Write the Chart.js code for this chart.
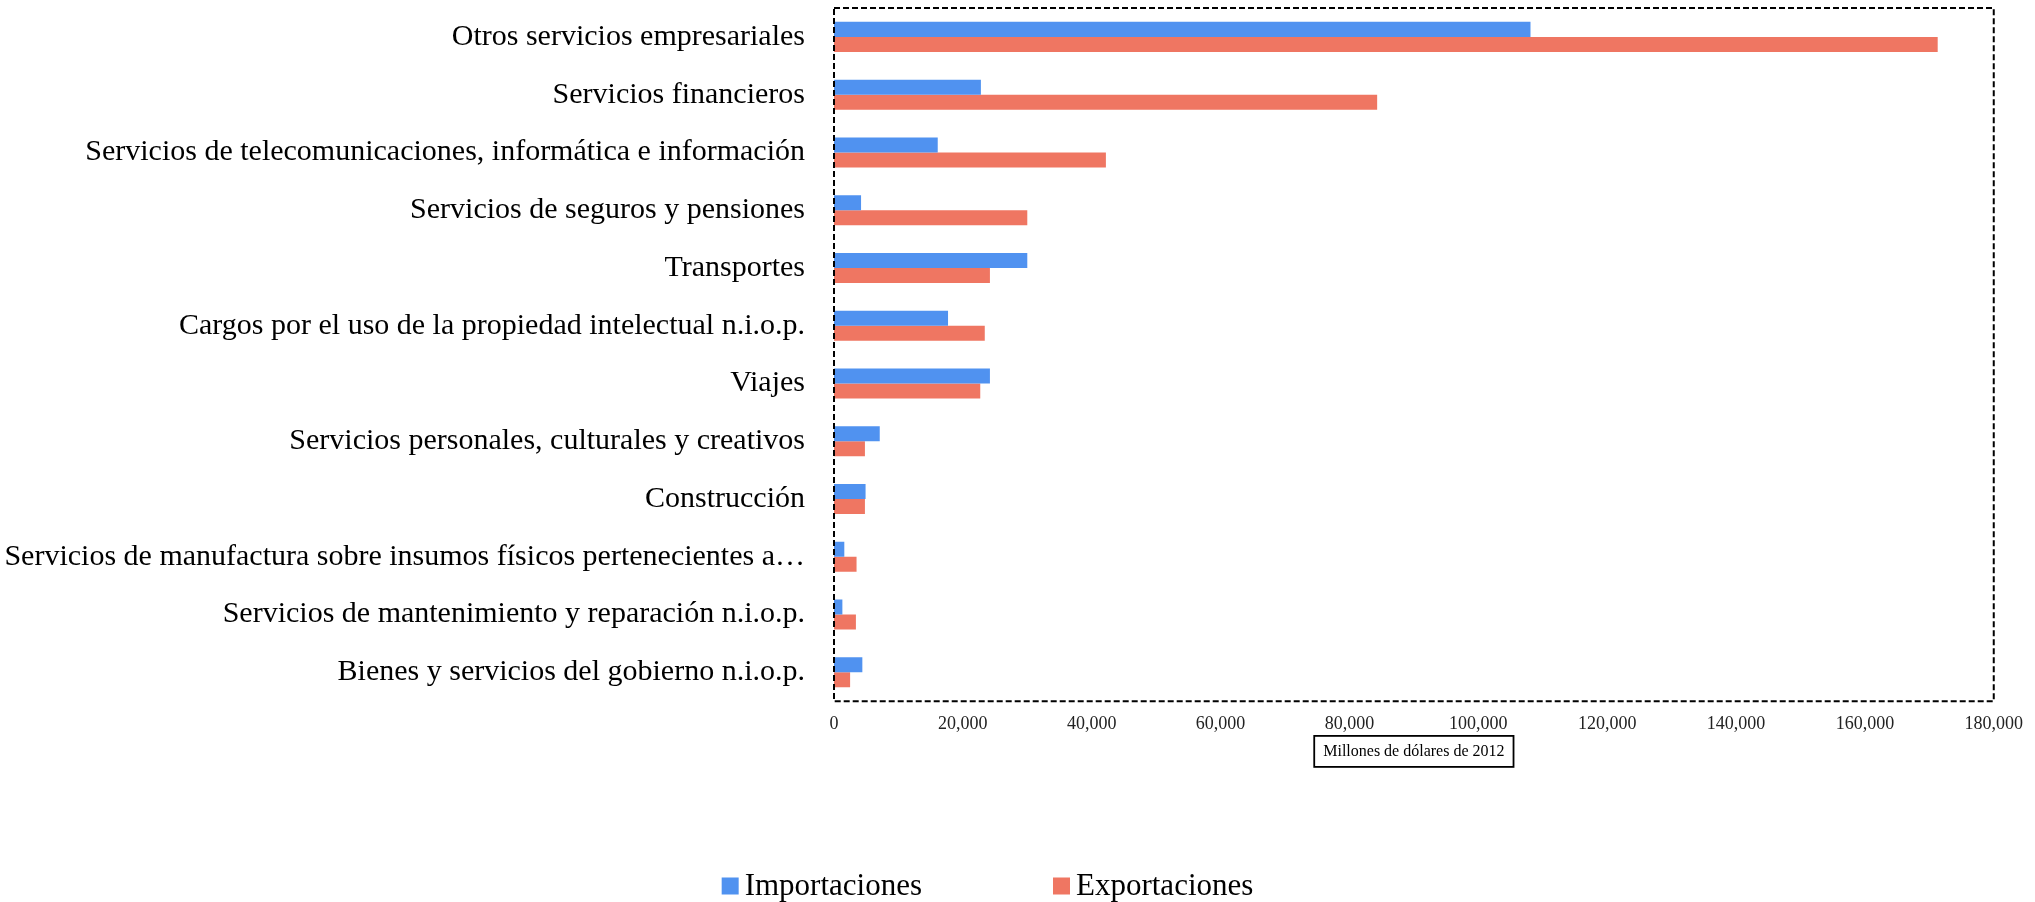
<!DOCTYPE html>
<html lang="es">
<head>
<meta charset="utf-8">
<title>Comercio de servicios</title>
<script src="https://cdn.jsdelivr.net/npm/chart.js@4.4.1/dist/chart.umd.min.js"></script>
<style>
  html, body { margin: 0; padding: 0; background: #ffffff; }
  #wrap { width: 2035px; height: 902px; position: relative; }
</style>
</head>
<body>
<div id="wrap"><canvas id="serviciosChart"></canvas></div>
<script>

/*
====================================
DATOS
====================================
*/

const categorias = [
  "Otros servicios empresariales",
  "Servicios financieros",
  "Servicios de telecomunicaciones, informática e información",
  "Servicios de seguros y pensiones",
  "Transportes",
  "Cargos por el uso de la propiedad intelectual n.i.o.p.",
  "Viajes",
  "Servicios personales, culturales y creativos",
  "Construcción",
  "Servicios de manufactura sobre insumos físicos pertenecientes a…",
  "Servicios de mantenimiento y reparación n.i.o.p.",
  "Bienes y servicios del gobierno n.i.o.p."
];

const importaciones = [108100, 22800, 16100, 4200, 30000, 17700, 24200, 7100, 4900, 1600, 1300, 4400];

const exportaciones = [171300, 84300, 42200, 30000, 24200, 23400, 22700, 4800, 4800, 3500, 3400, 2500];

const ticksX = [0, 20000, 40000, 60000, 80000, 100000, 120000, 140000, 160000, 180000];

const tituloX = "Millones de dólares de 2012";

const FUENTE = "'Liberation Serif', 'DejaVu Serif', serif";
const AZUL = "#5092f0";
const NARANJA = "#ef7662";

/*
====================================
PLUGIN: borde punteado, caja del titulo y leyenda
====================================
*/

const decoracion = {

  id: "decoracion",

  afterDraw(chart) {

    const { ctx, chartArea: { left, right, top, bottom } } = chart;

    // borde punteado del area
    ctx.save();
    ctx.strokeStyle = "#000";
    ctx.lineWidth = 2;
    ctx.setLineDash([6, 3]);
    ctx.strokeRect(left, top, right - left, bottom - top);
    ctx.restore();

    // caja alrededor del titulo del eje
    const sx = chart.scales.x;
    const tOpt = sx.options.title;
    const lh = tOpt.font.size * 1.2;
    const cy = sx.bottom - tOpt.padding.bottom - lh / 2;
    const cx = (sx.left + sx.right) / 2;

    ctx.save();
    ctx.font = tOpt.font.size + "px " + FUENTE;
    const w = ctx.measureText(tituloX).width + 18;
    ctx.strokeStyle = "#000";
    ctx.lineWidth = 1.8;
    ctx.strokeRect(cx - w / 2, cy - 15.5, w, 31);
    ctx.restore();

    // leyenda
    const items = chart.data.datasets.map(ds => ({ text: ds.label, color: ds.backgroundColor }));
    const caja = 17, hueco = 6, separa = 131;

    ctx.save();
    ctx.font = "31px " + FUENTE;
    ctx.textBaseline = "middle";
    ctx.textAlign = "left";

    const anchos = items.map(it => caja + hueco + ctx.measureText(it.text).width);
    const total = anchos.reduce((a, b) => a + b, 0) + separa * (items.length - 1);
    let x = chart.width / 2 - 30 - total / 2;
    const y = 886;

    items.forEach((it, i) => {
      ctx.fillStyle = it.color;
      ctx.fillRect(x, y - caja / 2, caja, caja);
      ctx.fillStyle = "#000";
      ctx.fillText(it.text, x + caja + hueco, y + 1);
      x += anchos[i] + separa;
    });

    ctx.restore();
  }

};

/*
====================================
GRAFICO
====================================
*/

new Chart(document.getElementById("serviciosChart"), {

  type: "bar",

  data: {
    labels: categorias,
    datasets: [
      {
        label: "Importaciones",
        data: importaciones,
        backgroundColor: AZUL,
        borderWidth: 0
      },
      {
        label: "Exportaciones",
        data: exportaciones,
        backgroundColor: NARANJA,
        borderWidth: 0
      }
    ]
  },

  options: {
    indexAxis: "y",
    responsive: true,
    maintainAspectRatio: false,
    animation: false,
    categoryPercentage: 0.52,
    barPercentage: 1,

    layout: {
      padding: { left: 0, right: 40, top: 8, bottom: 141 }
    },

    scales: {
      y: {
        grid: { display: false, drawTicks: false },
        border: { display: false },
        ticks: {
          color: "#000",
          padding: 29,
          font: { family: FUENTE, size: 30 }
        },
        afterFit(scale) {
          scale.width = 834;
          scale.paddingTop = 0;
          scale.paddingBottom = 0;
        }
      },
      x: {
        min: 0,
        max: 180000,
        afterBuildTicks(scale) {
          scale.ticks = ticksX.map(v => ({ value: v }));
        },
        grid: { display: false, drawTicks: false },
        border: { display: false },
        ticks: {
          color: "#222",
          padding: 12,
          maxRotation: 0,
          font: { family: FUENTE, size: 18 },
          callback: v => v.toLocaleString("en-US")
        },
        title: {
          display: true,
          text: tituloX,
          color: "#000",
          padding: { top: -5, bottom: 0 },
          font: { family: FUENTE, size: 16 }
        }
      }
    },

    plugins: {
      legend: { display: false },
      tooltip: { enabled: false }
    }
  },

  plugins: [decoracion]

});

</script>
</body>
</html>
